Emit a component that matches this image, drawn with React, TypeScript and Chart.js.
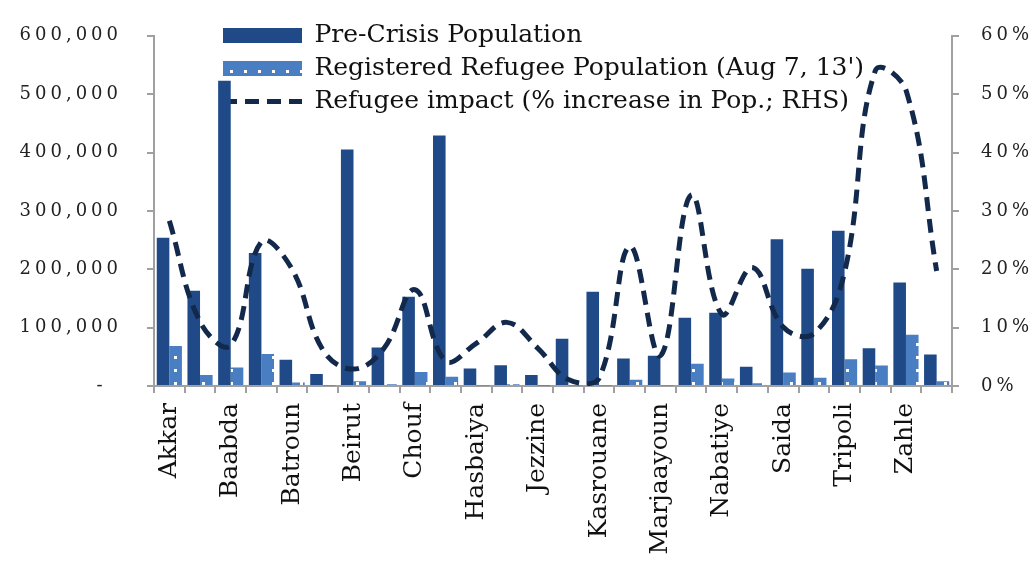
import React, { useEffect, useRef } from 'react';
import { Chart, registerables, LinearScale } from 'chart.js';

Chart.register(...registerables);

// Linear scale whose tick labels are drawn with wider letter spacing
class SpacedLinearScale extends LinearScale {
  static id = 'spacedLinear';
  static defaults = LinearScale.defaults;
  drawLabels(chartArea: any) {
    const ctx: any = (this as any).ctx;
    ctx.save();
    ctx.letterSpacing = '4px';
    super.drawLabels(chartArea);
    ctx.restore();
  }
}
Chart.register(SpacedLinearScale as any);

const districts = [
  'Akkar', 'Aley', 'Baabda', 'Baalbek', 'Batroun', 'Bcharre', 'Beirut', 'Bint Jbeil',
  'Chouf', 'El Koura', 'Hasbaiya', 'Hermel', 'Jezzine', 'Jbeil', 'Kasrouane', 'Metn',
  'Marjaayoun', 'Minieh-Dannieh', 'Nabatiye', 'Rachaya', 'Saida', 'Sour', 'Tripoli',
  'West Bekaa', 'Zahle', 'Zgharta',
];

const preCrisisPopulation = [
  254000, 163000, 523000, 228000, 45000, 20500, 405000, 66000, 153000, 429000,
  30000, 35500, 19000, 81000, 161500, 47000, 52000, 117000, 125500, 33000,
  251500, 201000, 266000, 64700, 177500, 54000,
];

const registeredRefugees = [
  68600, 19000, 31500, 55000, 6000, 1000, 8000, 3000, 24000, 16000,
  1000, 3000, 500, 1000, 1000, 10500, 1000, 38000, 13000, 4500,
  23000, 14000, 46000, 35000, 88000, 8000,
];

const refugeeImpactPct = [
  28.3, 11, 7, 24.7, 20, 6.2, 2.9, 6.5, 16.5, 4.3,
  7.3, 10.9, 6.5, 1.1, 1.3, 23.9, 5.2, 32.7, 12.3, 20.3,
  10.1, 9, 19.5, 54, 50.7, 19.7,
];

const leftTicks = [0, 100000, 200000, 300000, 400000, 500000, 600000];
const rightTicks = [0, 10, 20, 30, 40, 50, 60];

const seriesNames = [
  'Pre-Crisis Population',
  "Registered Refugee Population (Aug 7, 13')",
  'Refugee impact (% increase in Pop.; RHS)',
];

const DARK = '#1F4A87';
const LIGHT = '#4A7EC2';
const LINE = '#13294B';
const AXIS = '#a0a0a0';

function makePattern(): CanvasPattern | string {
  const c = document.createElement('canvas');
  c.width = 14;
  c.height = 13;
  const g = c.getContext('2d');
  if (!g) return LIGHT;
  g.fillStyle = LIGHT;
  g.fillRect(0, 0, 14, 13);
  g.fillStyle = '#ffffff';
  g.fillRect(6, 5, 3, 3);
  const p = g.createPattern(c, 'repeat');
  return p || LIGHT;
}

const legendPlacer = {
  id: 'legendPlacer',
  afterLayout(chart: any) {
    const lg = chart.legend;
    if (!lg) return;
    lg.left = 215;
    lg.top = 15;
    lg.right = 952;
    lg.bottom = 386;
    lg.width = lg.right - lg.left;
    lg.height = lg.bottom - lg.top;
  },
};

export default function App() {
  const ref = useRef<HTMLCanvasElement | null>(null);

  useEffect(() => {
    if (!ref.current) return;
    Chart.defaults.font.family = "'DejaVu Serif', serif";
    Chart.defaults.color = '#111';
    const pattern = makePattern();

    const chart = new Chart(ref.current, {
      type: 'bar',
      data: {
        labels: districts,
        datasets: [
          {
            type: 'bar',
            label: seriesNames[0],
            data: preCrisisPopulation,
            backgroundColor: DARK,
            borderWidth: 0,
            yAxisID: 'y',
            order: 1,
            categoryPercentage: 0.82,
            barPercentage: 1.0,
          } as any,
          {
            type: 'bar',
            label: seriesNames[1],
            data: registeredRefugees,
            backgroundColor: pattern,
            borderWidth: 0,
            yAxisID: 'y',
            order: 1,
            categoryPercentage: 0.82,
            barPercentage: 1.0,
          } as any,
          {
            type: 'line',
            label: seriesNames[2],
            data: refugeeImpactPct,
            borderColor: LINE,
            backgroundColor: LINE,
            borderWidth: 5,
            borderDash: [14, 8],
            pointRadius: 0,
            pointHoverRadius: 0,
            tension: 0.4,
            fill: false,
            yAxisID: 'y1',
            order: 0,
          } as any,
        ],
      },
      options: {
        responsive: false,
        animation: false,
        layout: { padding: { top: 22, left: 0, right: 0, bottom: 0 } },
        plugins: {
          tooltip: { enabled: false },
          legend: {
            display: true,
            position: 'chartArea' as any,
            align: 'start',
            labels: {
              usePointStyle: true,
              pointStyleWidth: 79,
              boxHeight: 15,
              padding: 8,
              color: '#111',
              font: { size: 25 },
              generateLabels: (c: any) => {
                const items = (Chart.defaults.plugins.legend.labels as any).generateLabels(c);
                return items
                  .map((it: any) => {
                    if (it.datasetIndex === 2) {
                      return { ...it, pointStyle: 'line', lineWidth: 5, strokeStyle: LINE, lineDash: [14, 8], lineCap: 'butt' };
                    }
                    return { ...it, pointStyle: 'rect', lineWidth: 0, lineDash: [] };
                  })
                  .sort((a: any, b: any) => a.datasetIndex - b.datasetIndex);
              },
            },
          },
        },
        scales: {
          x: {
            type: 'category',
            offset: true,
            grid: {
              display: true,
              offset: true,
              drawOnChartArea: false,
              drawTicks: true,
              tickLength: 7,
              color: AXIS,
              lineWidth: 2,
            },
            border: { display: true, color: AXIS, width: 2 },
            ticks: {
              autoSkip: false,
              minRotation: 90,
              maxRotation: 90,
              padding: 10,
              color: '#111',
              font: { size: 25 },
              callback: (_v: any, i: number) => (i % 2 === 0 ? districts[i] : ''),
            },
            afterFit: (s: any) => {
              s.height = 180;
            },
          },
          y: {
            type: 'spacedLinear' as any,
            position: 'left',
            min: leftTicks[0],
            max: leftTicks[leftTicks.length - 1],
            afterBuildTicks: (s: any) => {
              s.ticks = leftTicks.map((v) => ({ value: v }));
            },
            ticks: {
              padding: 25,
              color: '#222',
              font: { size: 18 },
              callback: (v: any) => (Number(v) === 0 ? '- \u200A' : Number(v).toLocaleString('en-US')),
            },
            grid: { drawOnChartArea: false, drawTicks: true, tickLength: 7, color: AXIS, lineWidth: 2 },
            border: { display: true, color: AXIS, width: 2 },
            afterFit: (s: any) => {
              s.width = 154;
            },
          } as any,
          y1: {
            type: 'spacedLinear' as any,
            position: 'right',
            min: rightTicks[0],
            max: rightTicks[rightTicks.length - 1],
            afterBuildTicks: (s: any) => {
              s.ticks = rightTicks.map((v) => ({ value: v }));
            },
            ticks: {
              padding: 22,
              color: '#222',
              font: { size: 18 },
              callback: (v: any) => `${v}%`,
            },
            grid: { drawOnChartArea: false, drawTicks: true, tickLength: 7, color: AXIS, lineWidth: 2 },
            border: { display: true, color: AXIS, width: 2 },
            afterFit: (s: any) => {
              s.width = 83;
            },
          } as any,
        },
      },
      plugins: [legendPlacer],
    });

    return () => {
      chart.destroy();
    };
  }, []);

  return (
    <div style={{ position: 'fixed', left: 0, top: 0, width: '1035px', height: '566px', background: '#fff' }}>
      <canvas
        ref={ref}
        width={1035}
        height={566}
        style={{ width: '1035px', height: '566px', display: 'block' }}
      />
    </div>
  );
}
